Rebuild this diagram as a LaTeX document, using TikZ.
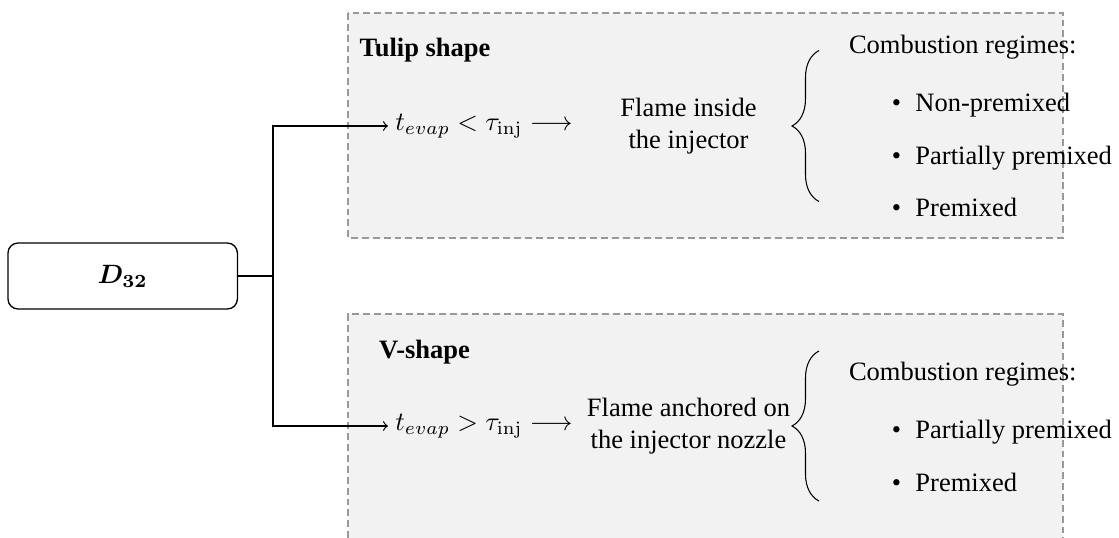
\documentclass[tikz,border=0pt]{standalone}
\usepackage[no-math]{fontspec}
\setmainfont{Liberation Serif}
\usetikzlibrary{decorations.pathreplacing}
\begin{document}
\begin{tikzpicture}[x=0.3774pt,y=-0.3774pt,
  regionfill/.style={fill=black!5},
  regionline/.style={draw=black!40, line width=0.45pt, dash pattern=on 2.6pt off 1.5pt},
  d32box/.style={draw, rounded corners=3.8pt, minimum width=86.6pt, minimum height=24.9pt, inner sep=0pt, line width=0.5pt},
  cond/.style={anchor=west, inner xsep=2.6pt, inner ysep=1pt},
  flame/.style={align=center, inner sep=0pt},
  heading/.style={anchor=base west, inner sep=0pt, font=\bfseries},
  plain/.style={anchor=base west, inner sep=0pt},
  bracedeco/.style={decorate, decoration={brace, amplitude=10.2pt}, line width=0.4pt},
  conn/.style={line width=0.45pt},
]
\useasboundingbox (0,0) rectangle (1119,538);
% regions
\fill[regionfill] (348,13) rectangle (1063,238);
\draw[regionline] (348,13) rectangle (1063,238);
\fill[regionfill] (348,314) rectangle (1063,538);
\draw[regionline] (348,538) -- (348,314) -- (1063,314) -- (1063,538);

% source
\node[d32box] (d32) at (122.7,276) {{\boldmath$D_{32}$}};
\coordinate (j) at (273,276);

% top region
\node[heading] (tulip) at (359,57) {Tulip shape};
\node[cond] (t1) at (388,126) {$t_{evap} < \tau_{\mathrm{inj}} \longrightarrow$};
\node[flame] (f1) at (688.5,126) {Flame inside\\the injector};
\coordinate (b1s) at (819,201.5);
\coordinate (b1e) at (819,50.5);
\draw[bracedeco] (b1s) -- (b1e);
\node[plain] (c1) at (848.5,53.3) {Combustion regimes:};
\node[plain] (i11) at (891.4,111) {\textbullet\hspace{5.4pt}Non-premixed};
\node[plain] (i12) at (891.4,164.3) {\textbullet\hspace{5.4pt}Partially premixed};
\node[plain] (i13) at (891.4,216.7) {\textbullet\hspace{5.4pt}Premixed};

% bottom region
\node[heading] (vshape) at (378.6,358) {V-shape};
\node[cond] (t2) at (388,426) {$t_{evap} > \tau_{\mathrm{inj}} \longrightarrow$};
\node[flame] (f2) at (688.5,426) {Flame anchored on\\the injector nozzle};
\coordinate (b2s) at (819,501);
\coordinate (b2e) at (819,351);
\draw[bracedeco] (b2s) -- (b2e);
\node[plain] (c2) at (848.5,380) {Combustion regimes:};
\node[plain] (i21) at (891.4,438) {\textbullet\hspace{5.4pt}Partially premixed};
\node[plain] (i22) at (891.4,491) {\textbullet\hspace{5.4pt}Premixed};

% connectors
\draw[conn] (d32.east) -- (j);
\draw[conn,->] (j) |- (t1.west);
\draw[conn,->] (j) |- (t2.west);
\end{tikzpicture}
\end{document}
